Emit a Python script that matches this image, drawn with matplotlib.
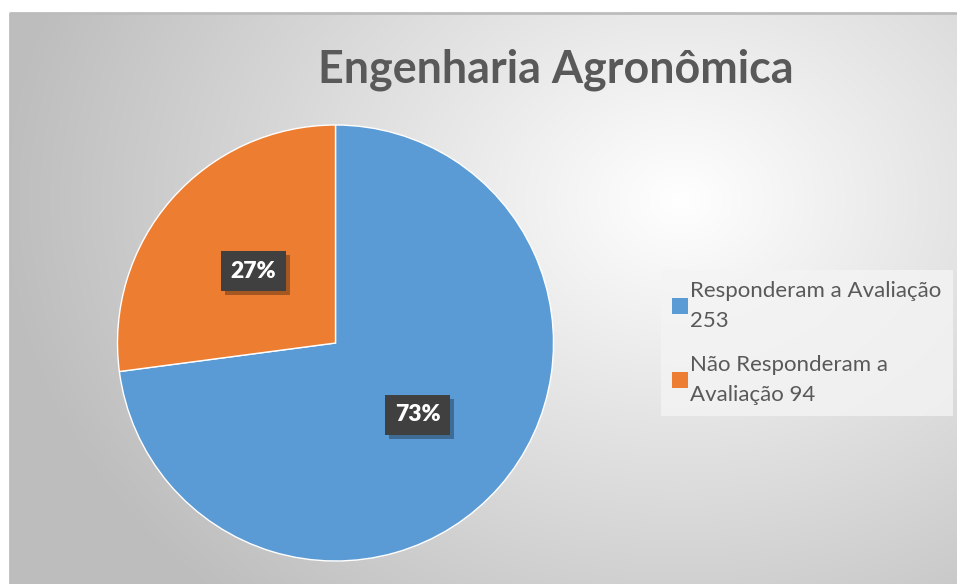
import numpy as np
import matplotlib as mpl
mpl.use('Agg')
import matplotlib.pyplot as plt
import matplotlib.patheffects as pe
from matplotlib.patches import Patch

# data
labels = ["Responderam a Avaliação\n253", "Não Responderam a\nAvaliação 94"]
values = [253, 94]
colors = ["#5B9BD5", "#ED7D31"]
title = "Engenharia Agronômica"

W, H = 957, 584
fig = plt.figure(figsize=(W / 100, H / 100), dpi=100)
fig.patch.set_facecolor("white")

# chart area background with radial gradient
x0, y0 = 10, 13  # top-left of chart area (pixels)
bg = fig.add_axes([x0 / W, 0, (W - x0) / W, (H - y0) / H])
bg.set_axis_off()
xx, yy = np.meshgrid(np.arange(x0, W), np.arange(y0, H))
d = np.sqrt(((xx - 680) / 1.0) ** 2 + ((yy - 200) / 0.8) ** 2)
gray = np.clip(255 - 60 * d / 620, 190, 255) / 255
bg.imshow(np.dstack([gray, gray, gray]), extent=[0, 1, 0, 1], aspect="auto", origin="upper")
bg.plot([0, 0, 1], [0, 1, 1], color="#bcbcbc", lw=2, transform=bg.transAxes, clip_on=False)
bg.set_xlim(0, 1)
bg.set_ylim(0, 1)

# pie
cx, cy, r = 335.5, H - 343, 218
ax = fig.add_axes([(cx - r) / W, (cy - r) / H, 2 * r / W, 2 * r / H])
wedges, _ = ax.pie(values, colors=colors, startangle=90, counterclock=False, radius=1,
                   wedgeprops=dict(linewidth=1, edgecolor="white"))
ax.set_xlim(-1, 1)
ax.set_ylim(-1, 1)
ax.set_aspect("equal")

total = sum(values)
ang = 90
for v in values:
    sweep = 360 * v / total
    mid = np.deg2rad(ang - sweep / 2)
    ang -= sweep
    px, py = 0.5 * np.cos(mid), 0.5 * np.sin(mid)
    pct = f"{round(100 * v / total)}%"
    t = ax.text(px, py, pct, ha="center", va="center", fontsize=16.5, fontweight="heavy",
                family="Lato", color="white",
                bbox=dict(boxstyle="square,pad=0.42", fc="#404040", ec="none"))
    t.get_bbox_patch().set_path_effects([
        pe.SimplePatchShadow(offset=(3, -3), shadow_rgbFace="black", alpha=0.3),
        pe.Normal()])

# title
fig.text(556 / W, 1 - 70 / H, title, ha="center", va="center", fontsize=32.3,
         fontweight="bold", family="Lato", color="#595959")

# legend
handles = [Patch(facecolor=c, edgecolor="none") for c in colors]
leg = fig.legend(handles, labels, loc="upper left", bbox_to_anchor=(661 / W, 1 - 270 / H),
                 frameon=True, fancybox=False, prop=dict(family="Lato", size=16),
                 labelcolor="#595959", handlelength=0.7, handleheight=0.7,
                 handletextpad=0.12, labelspacing=1.1, borderpad=0.5, borderaxespad=0)
leg.get_frame().set_facecolor("#f4f4f4")
leg.get_frame().set_alpha(0.8)
leg.get_frame().set_edgecolor("none")
for t in leg.get_texts():
    t.set_linespacing(1.6)

plt.savefig("out.png", dpi=100)
